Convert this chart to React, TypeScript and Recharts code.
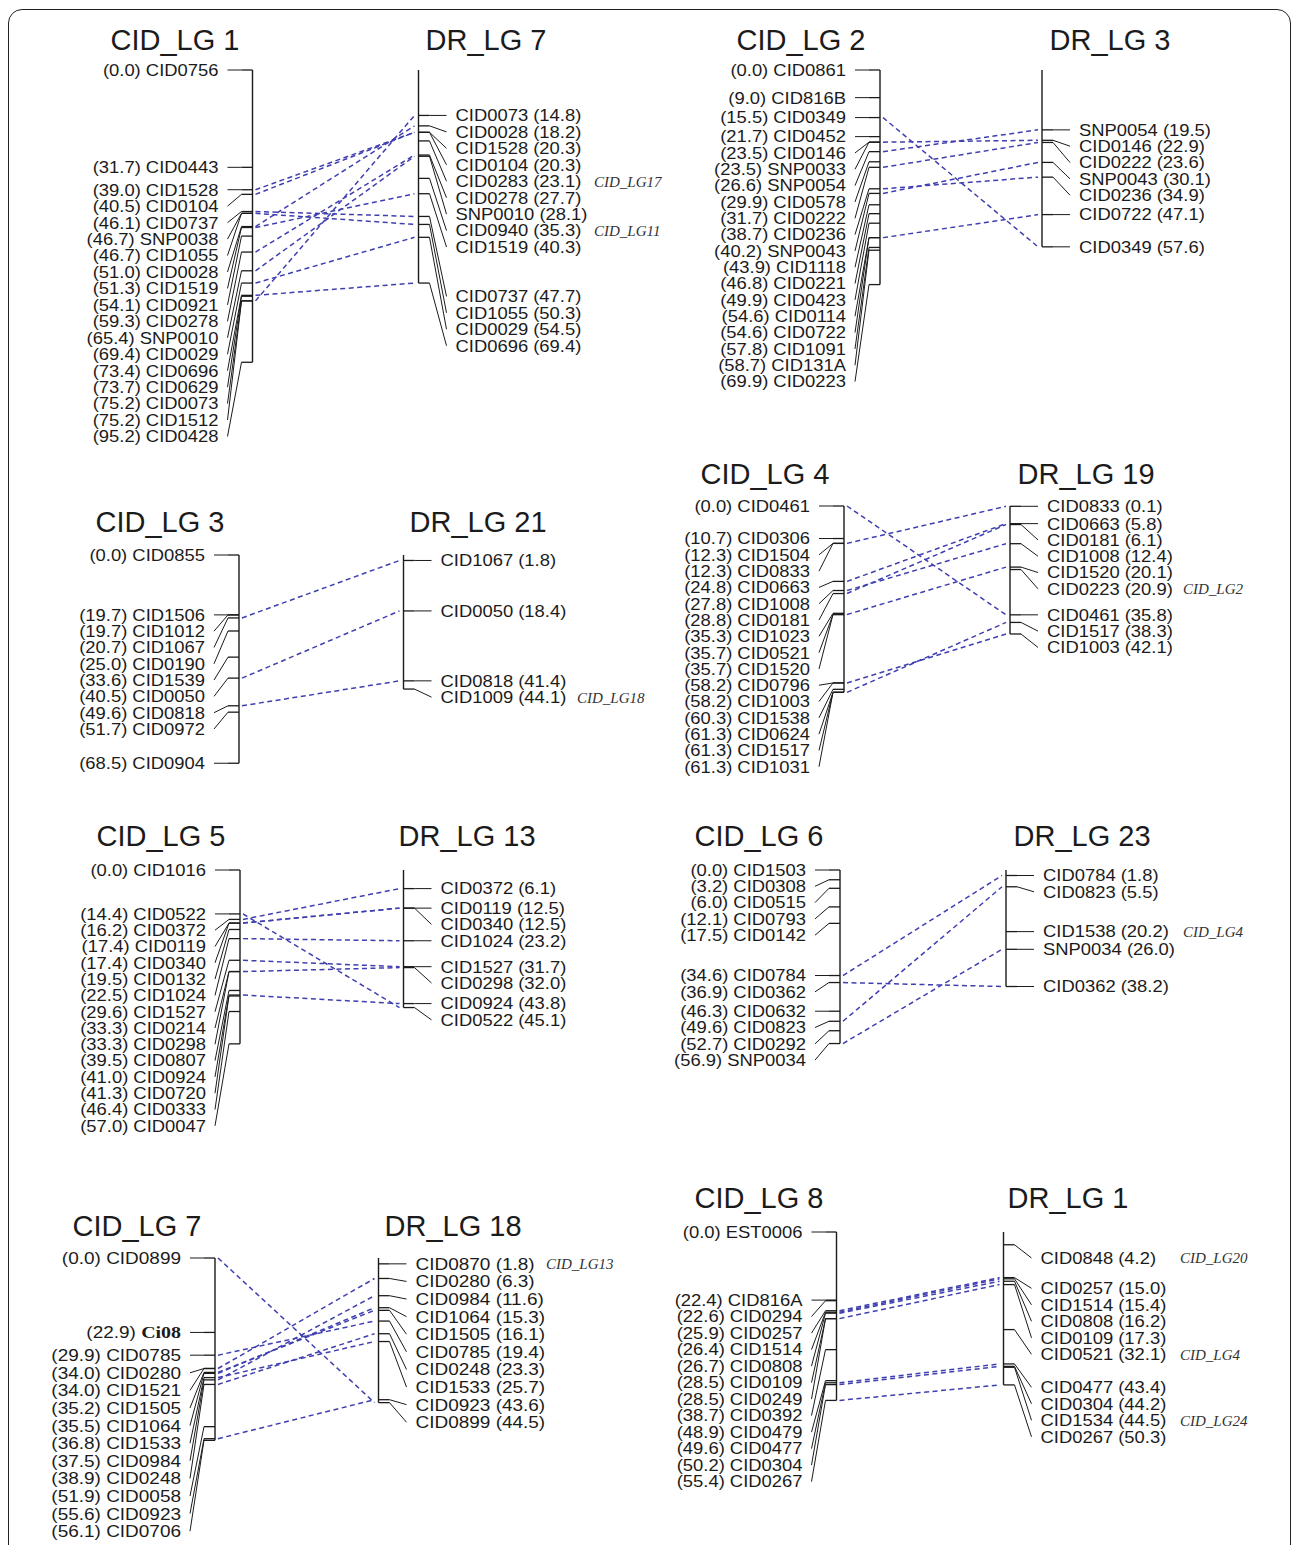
import React from 'react';
import { ScatterChart, Scatter, XAxis, YAxis, ReferenceLine } from 'recharts';

type Marker = { name: string; pos: number; note?: string };

// ---- marker data (name, position in cM) ----
const cidLg1: Marker[] = [
  { name: 'CID0756', pos: 0.0 }, { name: 'CID0443', pos: 31.7 }, { name: 'CID1528', pos: 39.0 },
  { name: 'CID0104', pos: 40.5 }, { name: 'CID0737', pos: 46.1 }, { name: 'SNP0038', pos: 46.7 },
  { name: 'CID1055', pos: 46.7 }, { name: 'CID0028', pos: 51.0 }, { name: 'CID1519', pos: 51.3 },
  { name: 'CID0921', pos: 54.1 }, { name: 'CID0278', pos: 59.3 }, { name: 'SNP0010', pos: 65.4 },
  { name: 'CID0029', pos: 69.4 }, { name: 'CID0696', pos: 73.4 }, { name: 'CID0629', pos: 73.7 },
  { name: 'CID0073', pos: 75.2 }, { name: 'CID1512', pos: 75.2 }, { name: 'CID0428', pos: 95.2 },
];
const drLg7: Marker[] = [
  { name: 'CID0073', pos: 14.8 }, { name: 'CID0028', pos: 18.2 }, { name: 'CID1528', pos: 20.3 },
  { name: 'CID0104', pos: 20.3 }, { name: 'CID0283', pos: 23.1, note: 'CID_LG17' }, { name: 'CID0278', pos: 27.7 },
  { name: 'SNP0010', pos: 28.1 }, { name: 'CID0940', pos: 35.3, note: 'CID_LG11' }, { name: 'CID1519', pos: 40.3 },
  { name: 'CID0737', pos: 47.7 }, { name: 'CID1055', pos: 50.3 }, { name: 'CID0029', pos: 54.5 },
  { name: 'CID0696', pos: 69.4 },
];
const cidLg2: Marker[] = [
  { name: 'CID0861', pos: 0.0 }, { name: 'CID816B', pos: 9.0 }, { name: 'CID0349', pos: 15.5 },
  { name: 'CID0452', pos: 21.7 }, { name: 'CID0146', pos: 23.5 }, { name: 'SNP0033', pos: 23.5 },
  { name: 'SNP0054', pos: 26.6 }, { name: 'CID0578', pos: 29.9 }, { name: 'CID0222', pos: 31.7 },
  { name: 'CID0236', pos: 38.7 }, { name: 'SNP0043', pos: 40.2 }, { name: 'CID1118', pos: 43.9 },
  { name: 'CID0221', pos: 46.8 }, { name: 'CID0423', pos: 49.9 }, { name: 'CID0114', pos: 54.6 },
  { name: 'CID0722', pos: 54.6 }, { name: 'CID1091', pos: 57.8 }, { name: 'CID131A', pos: 58.7 },
  { name: 'CID0223', pos: 69.9 },
];
const drLg3: Marker[] = [
  { name: 'SNP0054', pos: 19.5 }, { name: 'CID0146', pos: 22.9 }, { name: 'CID0222', pos: 23.6 },
  { name: 'SNP0043', pos: 30.1 }, { name: 'CID0236', pos: 34.9 }, { name: 'CID0722', pos: 47.1 },
  { name: 'CID0349', pos: 57.6 },
];
const cidLg3: Marker[] = [
  { name: 'CID0855', pos: 0.0 }, { name: 'CID1506', pos: 19.7 }, { name: 'CID1012', pos: 19.7 },
  { name: 'CID1067', pos: 20.7 }, { name: 'CID0190', pos: 25.0 }, { name: 'CID1539', pos: 33.6 },
  { name: 'CID0050', pos: 40.5 }, { name: 'CID0818', pos: 49.6 }, { name: 'CID0972', pos: 51.7 },
  { name: 'CID0904', pos: 68.5 },
];
const drLg21: Marker[] = [
  { name: 'CID1067', pos: 1.8 }, { name: 'CID0050', pos: 18.4 }, { name: 'CID0818', pos: 41.4 },
  { name: 'CID1009', pos: 44.1, note: 'CID_LG18' },
];
const cidLg4: Marker[] = [
  { name: 'CID0461', pos: 0.0 }, { name: 'CID0306', pos: 10.7 }, { name: 'CID1504', pos: 12.3 },
  { name: 'CID0833', pos: 12.3 }, { name: 'CID0663', pos: 24.8 }, { name: 'CID1008', pos: 27.8 },
  { name: 'CID0181', pos: 28.8 }, { name: 'CID1023', pos: 35.3 }, { name: 'CID0521', pos: 35.7 },
  { name: 'CID1520', pos: 35.7 }, { name: 'CID0796', pos: 58.2 }, { name: 'CID1003', pos: 58.2 },
  { name: 'CID1538', pos: 60.3 }, { name: 'CID0624', pos: 61.3 }, { name: 'CID1517', pos: 61.3 },
  { name: 'CID1031', pos: 61.3 },
];
const drLg19: Marker[] = [
  { name: 'CID0833', pos: 0.1 }, { name: 'CID0663', pos: 5.8 }, { name: 'CID0181', pos: 6.1 },
  { name: 'CID1008', pos: 12.4 }, { name: 'CID1520', pos: 20.1 }, { name: 'CID0223', pos: 20.9, note: 'CID_LG2' },
  { name: 'CID0461', pos: 35.8 }, { name: 'CID1517', pos: 38.3 }, { name: 'CID1003', pos: 42.1 },
];
const cidLg5: Marker[] = [
  { name: 'CID1016', pos: 0.0 }, { name: 'CID0522', pos: 14.4 }, { name: 'CID0372', pos: 16.2 },
  { name: 'CID0119', pos: 17.4 }, { name: 'CID0340', pos: 17.4 }, { name: 'CID0132', pos: 19.5 },
  { name: 'CID1024', pos: 22.5 }, { name: 'CID1527', pos: 29.6 }, { name: 'CID0214', pos: 33.3 },
  { name: 'CID0298', pos: 33.3 }, { name: 'CID0807', pos: 39.5 }, { name: 'CID0924', pos: 41.0 },
  { name: 'CID0720', pos: 41.3 }, { name: 'CID0333', pos: 46.4 }, { name: 'CID0047', pos: 57.0 },
];
const drLg13: Marker[] = [
  { name: 'CID0372', pos: 6.1 }, { name: 'CID0119', pos: 12.5 }, { name: 'CID0340', pos: 12.5 },
  { name: 'CID1024', pos: 23.2 }, { name: 'CID1527', pos: 31.7 }, { name: 'CID0298', pos: 32.0 },
  { name: 'CID0924', pos: 43.8 }, { name: 'CID0522', pos: 45.1 },
];
const cidLg6: Marker[] = [
  { name: 'CID1503', pos: 0.0 }, { name: 'CID0308', pos: 3.2 }, { name: 'CID0515', pos: 6.0 },
  { name: 'CID0793', pos: 12.1 }, { name: 'CID0142', pos: 17.5 }, { name: 'CID0784', pos: 34.6 },
  { name: 'CID0362', pos: 36.9 }, { name: 'CID0632', pos: 46.3 }, { name: 'CID0823', pos: 49.6 },
  { name: 'CID0292', pos: 52.7 }, { name: 'SNP0034', pos: 56.9 },
];
const drLg23: Marker[] = [
  { name: 'CID0784', pos: 1.8 }, { name: 'CID0823', pos: 5.5 }, { name: 'CID1538', pos: 20.2, note: 'CID_LG4' },
  { name: 'SNP0034', pos: 26.0 }, { name: 'CID0362', pos: 38.2 },
];
const cidLg7: Marker[] = [
  { name: 'CID0899', pos: 0.0 }, { name: 'Ci08', pos: 22.9 }, { name: 'CID0785', pos: 29.9 },
  { name: 'CID0280', pos: 34.0 }, { name: 'CID1521', pos: 34.0 }, { name: 'CID1505', pos: 35.2 },
  { name: 'CID1064', pos: 35.5 }, { name: 'CID1533', pos: 36.8 }, { name: 'CID0984', pos: 37.5 },
  { name: 'CID0248', pos: 38.9 }, { name: 'CID0058', pos: 51.9 }, { name: 'CID0923', pos: 55.6 },
  { name: 'CID0706', pos: 56.1 },
];
const drLg18: Marker[] = [
  { name: 'CID0870', pos: 1.8, note: 'CID_LG13' }, { name: 'CID0280', pos: 6.3 }, { name: 'CID0984', pos: 11.6 },
  { name: 'CID1064', pos: 15.3 }, { name: 'CID1505', pos: 16.1 }, { name: 'CID0785', pos: 19.4 },
  { name: 'CID0248', pos: 23.3 }, { name: 'CID1533', pos: 25.7 }, { name: 'CID0923', pos: 43.6 },
  { name: 'CID0899', pos: 44.5 },
];
const cidLg8: Marker[] = [
  { name: 'EST0006', pos: 0.0 }, { name: 'CID816A', pos: 22.4 }, { name: 'CID0294', pos: 22.6 },
  { name: 'CID0257', pos: 25.9 }, { name: 'CID1514', pos: 26.4 }, { name: 'CID0808', pos: 26.7 },
  { name: 'CID0109', pos: 28.5 }, { name: 'CID0249', pos: 28.5 }, { name: 'CID0392', pos: 38.7 },
  { name: 'CID0479', pos: 48.9 }, { name: 'CID0477', pos: 49.6 }, { name: 'CID0304', pos: 50.2 },
  { name: 'CID0267', pos: 55.4 },
];
const drLg1: Marker[] = [
  { name: 'CID0848', pos: 4.2, note: 'CID_LG20' }, { name: 'CID0257', pos: 15.0 }, { name: 'CID1514', pos: 15.4 },
  { name: 'CID0808', pos: 16.2 }, { name: 'CID0109', pos: 17.3 }, { name: 'CID0521', pos: 32.1, note: 'CID_LG4' },
  { name: 'CID0477', pos: 43.4 }, { name: 'CID0304', pos: 44.2 }, { name: 'CID1534', pos: 44.5, note: 'CID_LG24' },
  { name: 'CID0267', pos: 50.3 },
];

// marker names printed in bold serif
const serifNames = new Set(['Ci08']);

// ---- layout ----
const SANS = '"Liberation Sans", Arial, Helvetica, sans-serif';
const SERIF = '"Liberation Serif", "Times New Roman", serif';
const INK = '#1b1b1b';
const LINK = '#3f3fb0';
const TICK = 11;
const LEFT_CONN = 25;
const LEFT_TEXT = 34;
const RIGHT_CONN = 28;
const RIGHT_TEXT = 37;

type Panel = {
  leftTitle: string; rightTitle: string;
  left: Marker[]; right: Marker[];
  leftX: number; rightX: number; leftTitleX: number; rightTitleX: number;
  titleY: number; zeroY: number; ppc: number; gap: number; fs: number;
  colX: number; colW: number; top: number; height: number; noteX: number;
  rightExtra?: Record<string, number>;
};

const panels: Panel[] = [
  { leftTitle: 'CID_LG 1', rightTitle: 'DR_LG 7', left: cidLg1, right: drLg7,
    leftX: 252.5, rightX: 418.5, leftTitleX: 175, rightTitleX: 486, titleY: 40,
    zeroY: 70, ppc: 3.07, gap: 16.45, fs: 16.3, colX: 0, colW: 690, top: 50, height: 410, noteX: 594,
    rightExtra: { CID0737: 2 } },
  { leftTitle: 'CID_LG 2', rightTitle: 'DR_LG 3', left: cidLg2, right: drLg3,
    leftX: 880, rightX: 1042, leftTitleX: 801, rightTitleX: 1110, titleY: 40,
    zeroY: 70, ppc: 3.07, gap: 16.33, fs: 16.3, colX: 640, colW: 653, top: 50, height: 360, noteX: 1183 },
  { leftTitle: 'CID_LG 3', rightTitle: 'DR_LG 21', left: cidLg3, right: drLg21,
    leftX: 239, rightX: 403.5, leftTitleX: 160, rightTitleX: 478, titleY: 522,
    zeroY: 555, ppc: 3.04, gap: 16.3, fs: 16.3, colX: 0, colW: 690, top: 540, height: 250, noteX: 577 },
  { leftTitle: 'CID_LG 4', rightTitle: 'DR_LG 19', left: cidLg4, right: drLg19,
    leftX: 844, rightX: 1010, leftTitleX: 765, rightTitleX: 1086, titleY: 474,
    zeroY: 506, ppc: 3.04, gap: 16.3, fs: 16.3, colX: 640, colW: 653, top: 490, height: 300, noteX: 1183 },
  { leftTitle: 'CID_LG 5', rightTitle: 'DR_LG 13', left: cidLg5, right: drLg13,
    leftX: 240, rightX: 403.5, leftTitleX: 161, rightTitleX: 467, titleY: 836,
    zeroY: 870, ppc: 3.05, gap: 16.3, fs: 16.3, colX: 0, colW: 690, top: 855, height: 295, noteX: 577 },
  { leftTitle: 'CID_LG 6', rightTitle: 'DR_LG 23', left: cidLg6, right: drLg23,
    leftX: 840, rightX: 1006, leftTitleX: 759, rightTitleX: 1082, titleY: 836,
    zeroY: 870, ppc: 3.05, gap: 16.3, fs: 16.3, colX: 640, colW: 653, top: 855, height: 225, noteX: 1183 },
  { leftTitle: 'CID_LG 7', rightTitle: 'DR_LG 18', left: cidLg7, right: drLg18,
    leftX: 215, rightX: 378.5, leftTitleX: 137, rightTitleX: 453, titleY: 1226,
    zeroY: 1258, ppc: 3.25, gap: 17.6, fs: 16.8, colX: 0, colW: 690, top: 1243, height: 302, noteX: 546 },
  { leftTitle: 'CID_LG 8', rightTitle: 'DR_LG 1', left: cidLg8, right: drLg1,
    leftX: 836.5, rightX: 1003.5, leftTitleX: 759, rightTitleX: 1068, titleY: 1198,
    zeroY: 1232, ppc: 3.04, gap: 16.5, fs: 16.3, colX: 640, colW: 653, top: 1215, height: 330, noteX: 1180,
    rightExtra: { CID0848: 0.8, CID0257: 0.65, CID0477: 1 } },
];

// spread labels downward so that they keep a minimum gap (in cM units)
function layoutLabels(markers: Marker[], gapCm: number, extra: Record<string, number> = {}) {
  let prev = -Infinity;
  return markers.map((mk) => {
    const ly = Math.max(mk.pos, prev + gapCm) + (extra[mk.name] ?? 0) * gapCm;
    prev = ly;
    return { ...mk, ly };
  });
}

const makeLabel = (side: 'left' | 'right', fs: number) => (props: any) => {
  const { cx, cy, payload } = props;
  const p = `(${payload.pos.toFixed(1)})`;
  const nm = serifNames.has(payload.name)
    ? <tspan fontFamily={SERIF} fontWeight="bold" fontSize={fs * 1.05}>{payload.name}</tspan>
    : payload.name;
  return (
    <text
      transform={`translate(${cx},${cy}) scale(1.13,1)`}
      textAnchor={side === 'left' ? 'end' : 'start'}
      dy="0.36em"
      fontFamily={SANS}
      fontSize={fs}
      fill={INK}
    >
      {side === 'left' ? <>{p} {nm}</> : <>{nm} {p}</>}
    </text>
  );
};

const noteShape = (props: any) => {
  const { cx, cy, payload } = props;
  return (
    <text x={cx} y={cy} dy="0.36em" fontFamily={SERIF} fontStyle="italic" fontSize={15} fill="#333">
      {payload.note}
    </text>
  );
};

function PairPanel({ p }: { p: Panel }) {
  const gapCm = p.gap / p.ppc;
  const L = layoutLabels(p.left, gapCm);
  const R = layoutLabels(p.right, gapCm, p.rightExtra);
  const c0 = (p.top - p.zeroY) / p.ppc;
  const c1 = (p.top + p.height - p.zeroY) / p.ppc;
  const maxL = Math.max(...L.map((d) => d.pos));
  const maxR = Math.max(...R.map((d) => d.pos));
  const links = L.flatMap((a) => R.filter((b) => b.name === a.name).map((b) => ({ a, b })));

  const leftLabels = L.map((d) => ({ x: p.leftX - LEFT_TEXT, y: d.ly, name: d.name, pos: d.pos }));
  const rightLabels = R.map((d) => ({ x: p.rightX + RIGHT_TEXT, y: d.ly, name: d.name, pos: d.pos }));
  const notes = R.filter((d) => d.note).map((d) => ({ x: p.noteX, y: d.ly, note: d.note }));

  return (
    <div style={{ position: 'absolute', left: p.colX, top: p.top }}>
      <ScatterChart width={p.colW} height={p.height} margin={{ top: 0, right: 0, bottom: 0, left: 0 }}>
        <XAxis type="number" dataKey="x" domain={[p.colX, p.colX + p.colW]} hide allowDataOverflow />
        <YAxis type="number" dataKey="y" domain={[c0, c1]} reversed hide allowDataOverflow />

        {links.map(({ a, b }, i) => (
          <ReferenceLine
            key={`lk${i}`}
            segment={[{ x: p.leftX + 3, y: a.pos }, { x: p.rightX - 4, y: b.pos }]}
            stroke={LINK}
            strokeWidth={1.5}
            strokeDasharray="5 3.5"
            ifOverflow="visible"
          />
        ))}

        <ReferenceLine segment={[{ x: p.leftX, y: 0 }, { x: p.leftX, y: maxL }]} stroke={INK} strokeWidth={1.4} ifOverflow="visible" />
        <ReferenceLine segment={[{ x: p.rightX, y: 0 }, { x: p.rightX, y: maxR }]} stroke={INK} strokeWidth={1.4} ifOverflow="visible" />

        {L.map((d, i) => (
          <ReferenceLine key={`lt${i}`} segment={[{ x: p.leftX, y: d.pos }, { x: p.leftX - TICK, y: d.pos }]} stroke={INK} strokeWidth={1.3} ifOverflow="visible" />
        ))}
        {L.map((d, i) => (
          <ReferenceLine key={`lc${i}`} segment={[{ x: p.leftX - TICK, y: d.pos }, { x: p.leftX - LEFT_CONN, y: d.ly }]} stroke={INK} strokeWidth={1} ifOverflow="visible" />
        ))}
        {R.map((d, i) => (
          <ReferenceLine key={`rt${i}`} segment={[{ x: p.rightX, y: d.pos }, { x: p.rightX + TICK, y: d.pos }]} stroke={INK} strokeWidth={1.3} ifOverflow="visible" />
        ))}
        {R.map((d, i) => (
          <ReferenceLine key={`rc${i}`} segment={[{ x: p.rightX + TICK, y: d.pos }, { x: p.rightX + RIGHT_CONN, y: d.ly }]} stroke={INK} strokeWidth={1} ifOverflow="visible" />
        ))}

        <Scatter data={leftLabels} shape={makeLabel('left', p.fs)} isAnimationActive={false} />
        <Scatter data={rightLabels} shape={makeLabel('right', p.fs)} isAnimationActive={false} />
        <Scatter data={notes} shape={noteShape} isAnimationActive={false} />
      </ScatterChart>
    </div>
  );
}

const titleStyle = (x: number, y: number): React.CSSProperties => ({
  position: 'absolute', left: x, top: y, transform: 'translate(-50%, -50%)',
  fontFamily: SANS, fontSize: 29, lineHeight: 1, color: INK, whiteSpace: 'nowrap',
});

export default function App() {
  return (
    <div style={{ position: 'absolute', left: 0, top: 0, width: 1293, height: 1545, background: '#fff', overflow: 'hidden' }}>
      <div style={{ position: 'absolute', left: 8, top: 9, width: 1283, height: 1600, boxSizing: 'border-box', border: '1.6px solid #222', borderRadius: 14 }} />
      {panels.map((p, i) => (
        <React.Fragment key={i}>
          <div style={titleStyle(p.leftTitleX, p.titleY)}>{p.leftTitle}</div>
          <div style={titleStyle(p.rightTitleX, p.titleY)}>{p.rightTitle}</div>
          <PairPanel p={p} />
        </React.Fragment>
      ))}
    </div>
  );
}
